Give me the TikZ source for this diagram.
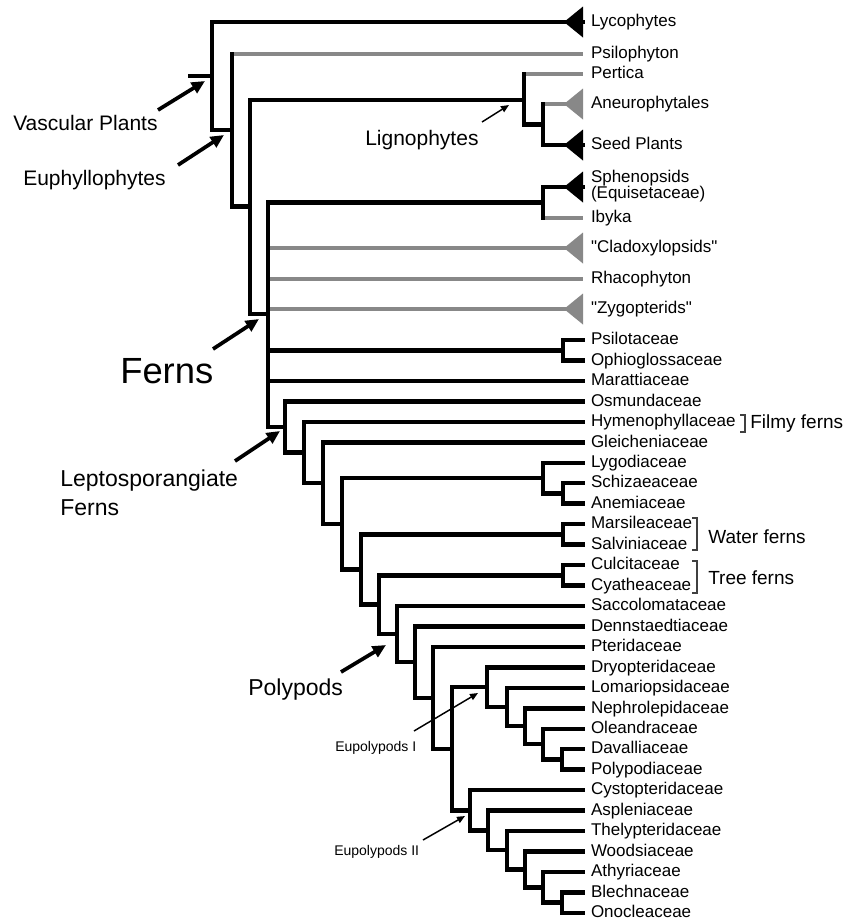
\documentclass[tikz,border=0pt]{standalone}
\usepackage{fontspec}
\setmainfont{Liberation Sans}
\usetikzlibrary{arrows.meta}
\definecolor{fossil}{HTML}{888888}
\begin{document}
\begin{tikzpicture}[x=0.75pt, y=-0.75pt,
  branch/.style={line width=3.4pt, line cap=rect, line join=miter},
  extinct/.style={draw=fossil, line width=2.8pt},
  tip/.style={anchor=west, inner xsep=6pt, inner ysep=0pt, outer sep=0pt, font=\fontsize{12.75}{12.5}\selectfont, text height=9.4pt, text depth=2.55pt},
  group/.style={anchor=base west, inner sep=0pt, font=\fontsize{15.75}{19}\selectfont},
  callout/.style={line width=2.8pt, -{Triangle[length=10pt,width=9pt]}},
  smallcallout/.style={line width=1.1pt, -{Triangle[length=6pt,width=5pt]}},
  bracket/.style={draw=black!75, line width=1.1pt}]
\useasboundingbox (0,0) rectangle (843,922);

% tips
\node[tip] (lyco) at (583,22) {Lycophytes};
\node[tip] (psil) at (583,54) {Psilophyton};
\node[tip] (pert) at (583,74) {Pertica};
\node[tip] (aneu) at (583,104) {Aneurophytales};
\node[tip] (seed) at (583,145) {Seed Plants};
\node[tip, align=left, text height=20.5pt] (spheno) at (583,187) {Sphenopsids\\(Equisetaceae)};
\node[tip] (ibyka) at (583,218) {Ibyka};
\node[tip] (clado) at (583,248) {\textquotedbl Cladoxylopsids\textquotedbl};
\node[tip] (rhaco) at (583,279) {Rhacophyton};
\node[tip] (zygo) at (583,309) {\textquotedbl Zygopterids\textquotedbl};
\node[tip] (psilot) at (583,340) {Psilotaceae};
\node[tip] (ophio) at (583,360.5) {Ophioglossaceae};
\node[tip] (maratt) at (583,381) {Marattiaceae};
\node[tip] (osmund) at (583,401.5) {Osmundaceae};
\node[tip] (hymeno) at (583,422) {Hymenophyllaceae};
\node[tip] (gleich) at (583,442.5) {Gleicheniaceae};
\node[tip] (lygo) at (583,463) {Lygodiaceae};
\node[tip] (schiz) at (583,483) {Schizaeaceae};
\node[tip] (anem) at (583,503.5) {Anemiaceae};
\node[tip] (marsil) at (583,524) {Marsileaceae};
\node[tip] (salvin) at (583,544.5) {Salviniaceae};
\node[tip] (culcit) at (583,565) {Culcitaceae};
\node[tip] (cyath) at (583,585.5) {Cyatheaceae};
\node[tip] (sacco) at (583,606) {Saccolomataceae};
\node[tip] (dennst) at (583,626.5) {Dennstaedtiaceae};
\node[tip] (pterid) at (583,647) {Pteridaceae};
\node[tip] (dryop) at (583,667.5) {Dryopteridaceae};
\node[tip] (lomar) at (583,688) {Lomariopsidaceae};
\node[tip] (nephro) at (583,708.5) {Nephrolepidaceae};
\node[tip] (olean) at (583,729) {Oleandraceae};
\node[tip] (daval) at (583,749) {Davalliaceae};
\node[tip] (polyp) at (583,769.5) {Polypodiaceae};
\node[tip] (cystop) at (583,790) {Cystopteridaceae};
\node[tip] (asplen) at (583,810.5) {Aspleniaceae};
\node[tip] (thelyp) at (583,831) {Thelypteridaceae};
\node[tip] (woods) at (583,851.5) {Woodsiaceae};
\node[tip] (athyr) at (583,872) {Athyriaceae};
\node[tip] (blech) at (583,892.5) {Blechnaceae};
\node[tip] (onocl) at (583,913) {Onocleaceae};

% internal nodes
\coordinate (root) at (190,76);
\coordinate (vascular) at (212,76);
\coordinate (euphyl) at (232,130);
\coordinate (euphylb) at (250,206.5);
\coordinate (ligno) at (524,100);
\coordinate (seedclade) at (543,124.5);
\coordinate (ferns) at (268,314);
\coordinate (sphenoclade) at (543,202.5);
\coordinate (psilotales) at (563,350.3);
\coordinate (lepto) at (285,427);
\coordinate (leptob) at (304,452.5);
\coordinate (leptoc) at (323,483.1);
\coordinate (leptod) at (342,523.9);
\coordinate (schizaeales) at (543,478.1);
\coordinate (anemclade) at (563,493.3);
\coordinate (leptoe) at (361,569.6);
\coordinate (salviniales) at (563,534.3);
\coordinate (leptof) at (379,604.7);
\coordinate (cyatheales) at (563,575.3);
\coordinate (polypods) at (397,634.1);
\coordinate (polyb) at (415,662.2);
\coordinate (polyc) at (433,697.8);
\coordinate (eupoly) at (452,748.8);
\coordinate (eupolyI) at (487,687.2);
\coordinate (eIb) at (507,707);
\coordinate (eIc) at (525,726.2);
\coordinate (eId) at (543,744.1);
\coordinate (eIe) at (562,759.3);
\coordinate (eupolyII) at (470,810.3);
\coordinate (eIIb) at (488,830.4);
\coordinate (eIIc) at (507,850.2);
\coordinate (eIId) at (525,869.4);
\coordinate (eIIe) at (543,887.3);
\coordinate (eIIf) at (562,902.7);

% fossil branches
\draw[extinct] (euphyl |- psil.west) -- (psil.west);
\draw[extinct] (ligno |- pert.west) -- (pert.west);
\draw[extinct] (seedclade |- aneu.west) -- (aneu.west);
\draw[extinct] (sphenoclade |- ibyka.west) -- (ibyka.west);
\draw[extinct] (ferns |- clado.west) -- (clado.west);
\draw[extinct] (ferns |- rhaco.west) -- (rhaco.west);
\draw[extinct] (ferns |- zygo.west) -- (zygo.west);

% living branches
\draw[branch] (root) -- (vascular);
\draw[branch] (vascular) |- (lyco.west);
\draw[branch] (vascular) |- (euphyl);
\draw[branch] (euphyl) -- (euphyl |- psil.west);
\draw[branch] (euphyl) |- (euphylb);
\draw[branch] (euphylb) |- (ligno);
\draw[branch] (ligno) -- (ligno |- pert.west);
\draw[branch] (ligno) |- (seedclade);
\draw[branch] (seedclade) -- (seedclade |- aneu.west);
\draw[branch] (seedclade) |- (seed.west);
\draw[branch] (euphylb) |- (ferns);
\draw[branch] (ferns) |- (sphenoclade);
\draw[branch] (sphenoclade) |- (spheno.west);
\draw[branch] (sphenoclade) -- (sphenoclade |- ibyka.west);
\draw[branch] (ferns) |- (psilotales);
\draw[branch] (psilotales) |- (psilot.west);
\draw[branch] (psilotales) |- (ophio.west);
\draw[branch] (ferns) |- (maratt.west);
\draw[branch] (ferns) |- (lepto);
\draw[branch] (lepto) |- (osmund.west);
\draw[branch] (lepto) |- (leptob);
\draw[branch] (leptob) |- (hymeno.west);
\draw[branch] (leptob) |- (leptoc);
\draw[branch] (leptoc) |- (gleich.west);
\draw[branch] (leptoc) |- (leptod);
\draw[branch] (leptod) |- (schizaeales);
\draw[branch] (schizaeales) |- (lygo.west);
\draw[branch] (schizaeales) |- (anemclade);
\draw[branch] (anemclade) |- (schiz.west);
\draw[branch] (anemclade) |- (anem.west);
\draw[branch] (leptod) |- (leptoe);
\draw[branch] (leptoe) |- (salviniales);
\draw[branch] (salviniales) |- (marsil.west);
\draw[branch] (salviniales) |- (salvin.west);
\draw[branch] (leptoe) |- (leptof);
\draw[branch] (leptof) |- (cyatheales);
\draw[branch] (cyatheales) |- (culcit.west);
\draw[branch] (cyatheales) |- (cyath.west);
\draw[branch] (leptof) |- (polypods);
\draw[branch] (polypods) |- (sacco.west);
\draw[branch] (polypods) |- (polyb);
\draw[branch] (polyb) |- (dennst.west);
\draw[branch] (polyb) |- (polyc);
\draw[branch] (polyc) |- (pterid.west);
\draw[branch] (polyc) |- (eupoly);
\draw[branch] (eupoly) |- (eupolyI);
\draw[branch] (eupolyI) |- (dryop.west);
\draw[branch] (eupolyI) |- (eIb);
\draw[branch] (eIb) |- (lomar.west);
\draw[branch] (eIb) |- (eIc);
\draw[branch] (eIc) |- (nephro.west);
\draw[branch] (eIc) |- (eId);
\draw[branch] (eId) |- (olean.west);
\draw[branch] (eId) |- (eIe);
\draw[branch] (eIe) |- (daval.west);
\draw[branch] (eIe) |- (polyp.west);
\draw[branch] (eupoly) |- (eupolyII);
\draw[branch] (eupolyII) |- (cystop.west);
\draw[branch] (eupolyII) |- (eIIb);
\draw[branch] (eIIb) |- (asplen.west);
\draw[branch] (eIIb) |- (eIIc);
\draw[branch] (eIIc) |- (thelyp.west);
\draw[branch] (eIIc) |- (eIId);
\draw[branch] (eIId) |- (woods.west);
\draw[branch] (eIId) |- (eIIe);
\draw[branch] (eIIe) |- (athyr.west);
\draw[branch] (eIIe) |- (eIIf);
\draw[branch] (eIIf) |- (blech.west);
\draw[branch] (eIIf) |- (onocl.west);

% collapsed clades
\fill (lyco.west) ++(0,-15.5) -- ++(0,31) -- ++(-19,-15.5) -- cycle;
\fill[fossil] (aneu.west) ++(0,-15.5) -- ++(0,31) -- ++(-19,-15.5) -- cycle;
\fill (seed.west) ++(0,-15.5) -- ++(0,31) -- ++(-19,-15.5) -- cycle;
\fill (spheno.west) ++(0,-15.5) -- ++(0,31) -- ++(-19,-15.5) -- cycle;
\fill[fossil] (clado.west) ++(0,-15.5) -- ++(0,31) -- ++(-19,-15.5) -- cycle;
\fill[fossil] (zygo.west) ++(0,-15.5) -- ++(0,31) -- ++(-19,-15.5) -- cycle;

% group labels
\node[group] (vasclab) at (13,130) {Vascular Plants};
\node[group] (euphyllab) at (23,185) {Euphyllophytes};
\node[group] (lignolab) at (365,145) {Lignophytes};
\node[group, font=\fontsize{27.3}{30}\selectfont] (fernslab) at (120,383) {Ferns};
\node[group, align=left, font=\fontsize{17.25}{21.75}\selectfont] (leptolab) at (60,515) {Leptosporangiate\\Ferns};
\node[group, font=\fontsize{17.25}{20}\selectfont] (polylab) at (248,695) {Polypods};
\node[group, font=\fontsize{10.5}{12}\selectfont] (eupolyIlab) at (335,751) {Eupolypods I};
\node[group, font=\fontsize{10.5}{12}\selectfont] (eupolyIIlab) at (334,855) {Eupolypods II};
\node[group, font=\fontsize{14.25}{16}\selectfont] (filmylab) at (750,428) {Filmy ferns};
\node[group, font=\fontsize{14.25}{16}\selectfont] (waterlab) at (708,543) {Water ferns};
\node[group, font=\fontsize{14.25}{16}\selectfont] (treelab) at (708,584) {Tree ferns};

% arrows
\coordinate (vasc-tail) at (158,110);
\coordinate (vasc-head) at (205,81);
\coordinate (euphyl-tail) at (178,165);
\coordinate (euphyl-head) at (224,135);
\coordinate (ligno-tail) at (482,122);
\coordinate (ligno-head) at (509,105);
\coordinate (ferns-tail) at (213,349);
\coordinate (ferns-head) at (259,319);
\coordinate (lepto-tail) at (235,461);
\coordinate (lepto-head) at (280,431);
\coordinate (poly-tail) at (341,672);
\coordinate (poly-head) at (386,645);
\coordinate (eupolyI-tail) at (414,731);
\coordinate (eupolyI-head) at (478,693);
\coordinate (eupolyII-tail) at (423,840);
\coordinate (eupolyII-head) at (465,816);
\draw[callout] (vasc-tail) -- (vasc-head);
\draw[callout] (euphyl-tail) -- (euphyl-head);
\draw[smallcallout] (ligno-tail) -- (ligno-head);
\draw[callout] (ferns-tail) -- (ferns-head);
\draw[callout] (lepto-tail) -- (lepto-head);
\draw[callout] (poly-tail) -- (poly-head);
\draw[smallcallout] (eupolyI-tail) -- (eupolyI-head);
\draw[smallcallout] (eupolyII-tail) -- (eupolyII-head);

% brackets
\draw[bracket] (740,415) -- (745,415) -- (745,432) -- (740,432);
\draw[bracket] (692,518) -- (697,518) -- (697,550) -- (692,550);
\draw[bracket] (692,561) -- (697,561) -- (697,593) -- (692,593);
\end{tikzpicture}
\end{document}
